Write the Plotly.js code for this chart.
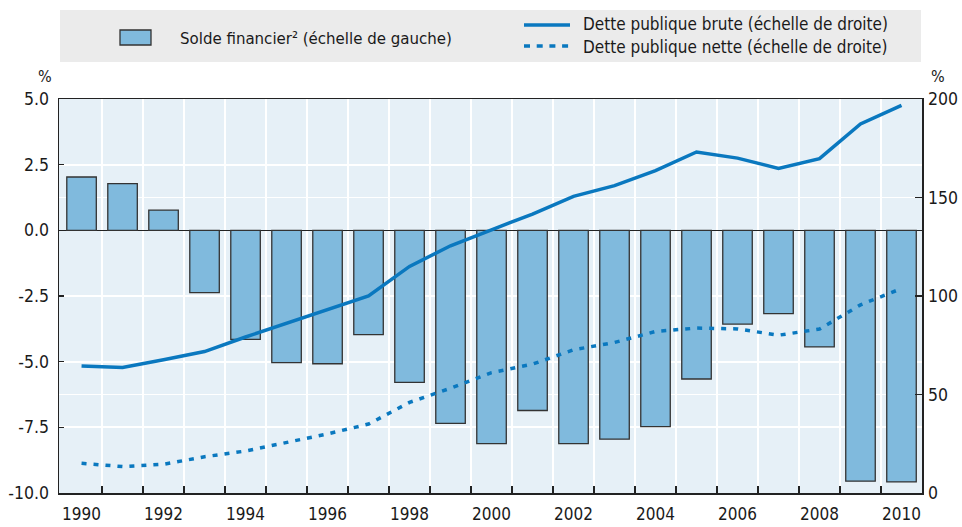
<!DOCTYPE html>
<html>
<head>
<meta charset="utf-8">
<script src="https://cdn.plot.ly/plotly-3.0.1.min.js"></script>
<style>html,body{margin:0;padding:0;background:#fff;}#chart{width:962px;height:527px;}</style>
</head>
<body>
<div id="chart"></div>
<script>
const years = [1990,1991,1992,1993,1994,1995,1996,1997,1998,1999,2000,2001,2002,2003,2004,2005,2006,2007,2008,2009,2010];
const financialBalance = [2.03,1.78,0.77,-2.37,-4.15,-5.04,-5.08,-3.97,-5.79,-7.35,-8.12,-6.86,-8.12,-7.95,-7.47,-5.66,-3.57,-3.17,-4.44,-9.55,-9.58];
const grossDebt = [64.5,63.7,67.6,71.8,79.2,86.2,93.0,100.1,115.0,125.5,133.6,141.6,150.6,156.0,163.6,173.1,170.0,164.8,169.7,187.3,196.8];
const netDebt = [15.1,13.4,14.6,18.4,21.3,25.6,30.0,35.0,46.0,53.2,61.1,65.4,72.7,76.4,82.0,83.7,83.3,80.1,83.2,95.5,103.8];
const yearTickVals = [1990,1992,1994,1996,1998,2000,2002,2004,2006,2008,2010];
const yearTickText = ["1990","1992","1994","1996","1998","2000","2002","2004","2006","2008","2010"];
const leftTicks = [-10,-7.5,-5,-2.5,0,2.5,5];
const leftTickText = ["-10.0","-7.5","-5.0","-2.5","0.0","2.5","5.0"];
const rightTicks = [0,50,100,150,200];
const legendBar = "Solde financier² (échelle de gauche)";
const legendGross = "Dette publique brute (échelle de droite)";
const legendNet = "Dette publique nette (échelle de droite)";

const FONT = "DejaVu Sans Condensed, Liberation Sans Narrow, sans-serif";
const LINE = "#0a78bf";
const BARFILL = "#80badd";
const AXIS = "#222222";
const TXT = "#1a1a1a";
const GRID = "#ffffff";

const boundaries = years.slice(0, -1).map(y => y + 0.5);

const traces = [
  {type:'bar', x: years, y: financialBalance, xaxis:'x', yaxis:'y', width:0.72,
   marker:{color:BARFILL, line:{color:'#333333', width:1.3}}, name:legendBar, showlegend:false},
  {type:'scatter', mode:'lines', x: years, y: grossDebt, xaxis:'x', yaxis:'y2',
   line:{color:LINE, width:3.5}, name:legendGross, showlegend:false},
  {type:'scatter', mode:'lines', x: years, y: netDebt, xaxis:'x', yaxis:'y2',
   line:{color:LINE, width:3.5, dash:'5px,7px'}, name:legendNet, showlegend:false},
  {type:'scatter', mode:'markers', x: years, y: financialBalance, xaxis:'x2', yaxis:'y',
   marker:{opacity:0, size:1}, hoverinfo:'skip', showlegend:false}
];

const W = 863, H = 394, L = 59, B = 493;
const px = v => (v - L) / W;
const py = v => (B - v) / H;

const layout = {
  width: 962, height: 527,
  margin: {l:59, r:40, t:99, b:34, pad:0},
  paper_bgcolor:'#ffffff', plot_bgcolor:'#e6f0f7',
  font:{family:FONT, size:17, color:TXT},
  bargap:0,
  xaxis:{range:[1989.45,2010.5], tickvals:boundaries, showticklabels:false, ticks:'inside', ticklen:7, tickwidth:1.3, tickcolor:AXIS,
         showgrid:true, gridcolor:GRID, gridwidth:1.8, showline:true, linecolor:AXIS, linewidth:1.5, mirror:true, zeroline:false},
  xaxis2:{range:[1989.45,2010.5], overlaying:'x', side:'bottom', anchor:'y', tickvals:yearTickVals, ticktext:yearTickText, ticks:'',
          showgrid:false, showline:false, zeroline:false, tickfont:{family:FONT, size:17, color:TXT}, ticklabelstandoff:9},
  yaxis:{range:[-10,5], tickvals:leftTicks, ticktext:leftTickText, ticks:'inside', ticklen:5, tickwidth:1.3, tickcolor:AXIS,
         showgrid:true, gridcolor:GRID, gridwidth:1.8, showline:true, linecolor:AXIS, linewidth:1.5, mirror:true,
         zeroline:true, zerolinecolor:AXIS, zerolinewidth:1.5, tickfont:{family:FONT, size:17.5, color:TXT}, ticklabelstandoff:5},
  yaxis2:{range:[0,200], overlaying:'y', side:'right', tickvals:rightTicks, ticks:'inside', ticklen:7, tickwidth:1.3, tickcolor:AXIS,
          showgrid:true, gridcolor:GRID, gridwidth:1.8, showline:false, zeroline:false, tickfont:{family:FONT, size:17.5, color:TXT}, ticklabelstandoff:5},
  shapes:[
    {type:'rect', xref:'paper', yref:'paper', x0:px(60), x1:px(921), y0:py(62), y1:py(10), fillcolor:'#ebebeb', line:{width:0}, layer:'below'},
    {type:'rect', xref:'paper', yref:'paper', x0:px(120), x1:px(151), y0:py(45), y1:py(30), fillcolor:BARFILL, line:{color:'#333333', width:1.3}},
    {type:'line', xref:'paper', yref:'paper', x0:px(524), x1:px(570), y0:py(25), y1:py(25), line:{color:LINE, width:3.5}},
    {type:'line', xref:'paper', yref:'paper', x0:px(524), x1:px(570), y0:py(46), y1:py(46), line:{color:LINE, width:3.5, dash:'6px,6.7px'}}
  ],
  annotations:[
    {xref:'paper', yref:'paper', x:px(178), y:py(38), xanchor:'left', yanchor:'middle', text:legendBar, showarrow:false, font:{family:FONT, size:16.7, color:TXT}},
    {xref:'paper', yref:'paper', x:px(581), y:py(24), xanchor:'left', yanchor:'middle', text:legendGross, showarrow:false, font:{family:FONT, size:17, color:TXT}},
    {xref:'paper', yref:'paper', x:px(581), y:py(47), xanchor:'left', yanchor:'middle', text:legendNet, showarrow:false, font:{family:FONT, size:17, color:TXT}},
    {xref:'paper', yref:'paper', x:px(45), y:py(76), xanchor:'center', yanchor:'middle', text:'%', showarrow:false, font:{family:FONT, size:16, color:TXT}},
    {xref:'paper', yref:'paper', x:px(938), y:py(76), xanchor:'center', yanchor:'middle', text:'%', showarrow:false, font:{family:FONT, size:16, color:TXT}}
  ]
};

Plotly.newPlot('chart', traces, layout, {displayModeBar:false, staticPlot:true});
</script>
</body>
</html>
